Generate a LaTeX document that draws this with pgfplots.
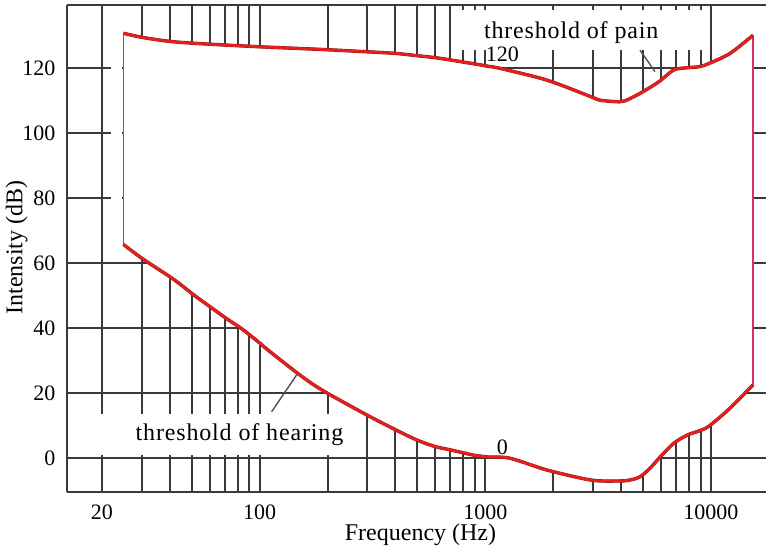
\documentclass[border=0pt]{standalone}
\usepackage{fontspec}
\setmainfont{Liberation Serif}
\newfontfamily\annfont[LetterSpace=3.5]{Liberation Serif}
\usepackage{pgfplots}
\pgfplotsset{compat=1.18}
\usepackage{pgfplotstable}

\definecolor{gridc}{RGB}{58,58,58}
\definecolor{curvered}{RGB}{232,30,30}
\definecolor{curvedark}{RGB}{140,25,25}
\definecolor{edgepink}{RGB}{214,50,100}
\definecolor{leader}{RGB}{80,80,80}

\pgfplotstableread{
f db
24.9 130.8
30.4 129.5
41.3 128.2
61.5 127.4
103 126.6
191 125.8
299 125.1
402 124.6
498 123.9
599 123.3
698 122.6
910 121.3
1018 120.7
1162 120.0
1872 116.4
2933 111.3
3225 110.2
3914 109.7
4163 110.0
4851 112.3
5888 115.9
6843 119.5
7896 120.2
8857 120.5
9810 121.5
12155 124.6
15374 130.2
}\pain

\pgfplotstableread{
f db
24.9 65.8
30.4 61.3
41.3 55.2
51.2 50.2
61.5 46.2
70.9 43.1
83.5 39.8
100.3 35.4
108.9 33.3
150.9 25.6
190.9 20.8
299 13.3
402 8.7
498 5.6
599 3.6
698 2.6
910 0.8
1018 0.4
1287 0.0
1872 -3.6
2933 -6.7
3914 -7.0
4380 -6.7
4851 -5.7
5373 -3.1
5888 0.0
6843 4.6
7896 7.2
8857 8.4
9810 9.9
12155 15.4
15374 22.6
}\hearing

\begin{document}
\begin{tikzpicture}
\useasboundingbox (-33.5pt,-28.15pt) rectangle (349.5pt,245.85pt);
\begin{axis}[
  at={(0,0)}, anchor=south west,
  scale only axis, width=349.5pt, height=243.35pt,
  xmode=log, xmin=14, xmax=17550, ymin=-10.3, ymax=139.5,
  axis x line*=box, axis y line*=left,
  axis line style={draw=gridc, line width=1pt},
  xtick={20,100,1000,10000}, xticklabels={20,100,1000,10000},
  minor xtick={30,40,50,60,70,80,90,200,300,400,500,600,700,800,900,2000,3000,4000,5000,6000,7000,8000,9000},
  ytick={0,20,...,120},
  grid=both,
  every major grid/.style={draw=gridc, line width=1pt},
  every minor grid/.style={draw=gridc, line width=1pt},
  major tick length=0pt, minor tick length=0pt,
  tick label style={font=\fontsize{11}{13}\selectfont},
  /pgf/number format/assume math mode=true,
  xticklabel style={yshift=-3pt},
  yticklabel style={xshift=-2.3pt},
  xlabel={Frequency (Hz)}, ylabel={Intensity (dB)},
  label style={font=\fontsize{12}{14}\selectfont},
  xlabel style={at={(axis description cs:0.5057,-0.089)}, anchor=center},
  ylabel style={at={(axis description cs:-0.0722,0.5018)}, anchor=center},
]
% white region between the thresholds
\addplot[fill=white, draw=none] coordinates {
(24.9,130.8) (30.4,129.5) (41.3,128.2) (61.5,127.4) (103,126.6) (191,125.8) (299,125.1) (402,124.6) (498,123.9) (599,123.3) (698,122.6) (910,121.3) (1018,120.7) (1162,120.0) (1872,116.4) (2933,111.3) (3225,110.2) (3914,109.7) (4163,110.0) (4851,112.3) (5888,115.9) (6843,119.5) (7896,120.2) (8857,120.5) (9810,121.5) (12155,124.6) (15374,130.2)
(15374,22.6) (12155,15.4) (9810,9.9) (8857,8.4) (7896,7.2) (6843,4.6) (5888,0.0) (5373,-3.1) (4851,-5.7) (4380,-6.7) (3914,-7.0) (2933,-6.7) (1872,-3.6) (1287,0.0) (1018,0.4) (910,0.8) (698,2.6) (599,3.6) (498,5.6) (402,8.7) (299,13.3) (190.9,20.8) (150.9,25.6) (108.9,33.3) (100.3,35.4) (83.5,39.8) (70.9,43.1) (61.5,46.2) (51.2,50.2) (41.3,55.2) (30.4,61.3) (24.9,65.8)
};
% label backgrounds
\fill[white] (axis cs:17.7,1.0) rectangle (axis cs:251,13.6);
\fill[white] (axis cs:757,125.6) rectangle (axis cs:9418,137.9);
\fill[white] (axis cs:22,70) rectangle (axis cs:24.6,126);
% vertical end lines
\addplot[edgepink, line width=0.9pt] coordinates {(24.9,65.8) (24.9,130.8)};
\addplot[edgepink, line width=0.9pt] coordinates {(15374,22.6) (15374,130.2)};
% curves
\addplot[curvedark, line width=1.7pt, smooth] table[x=f, y=db] {\pain};
\addplot[curvered, line width=1.3pt, smooth] table[x=f, y=db] {\pain};
\addplot[curvedark, line width=1.7pt, smooth] table[x=f, y=db] {\hearing};
\addplot[curvered, line width=1.3pt, smooth] table[x=f, y=db] {\hearing};
% leader lines
\draw[leader, line width=0.7pt] (axis cs:4851,125.6) -- (axis cs:5655,119.0);
\draw[leader, line width=0.7pt] (axis cs:113,14.3) -- (axis cs:146,25.7);
% annotations
\node[anchor=base, font=\annfont\fontsize{12}{14}\selectfont, inner sep=0pt] at (axis cs:2404,129.3) {threshold of pain};
\node[anchor=base, font=\fontsize{11}{13}\selectfont, inner sep=0pt] at (axis cs:1192,122.0) {120};
\node[anchor=base, font=\annfont\fontsize{12}{14}\selectfont, inner sep=0pt] at (axis cs:81.4,5.4) {threshold of hearing};
\node[anchor=base, font=\fontsize{11}{13}\selectfont, inner sep=0pt] at (axis cs:1192,1.0) {0};
\end{axis}
\end{tikzpicture}
\end{document}
